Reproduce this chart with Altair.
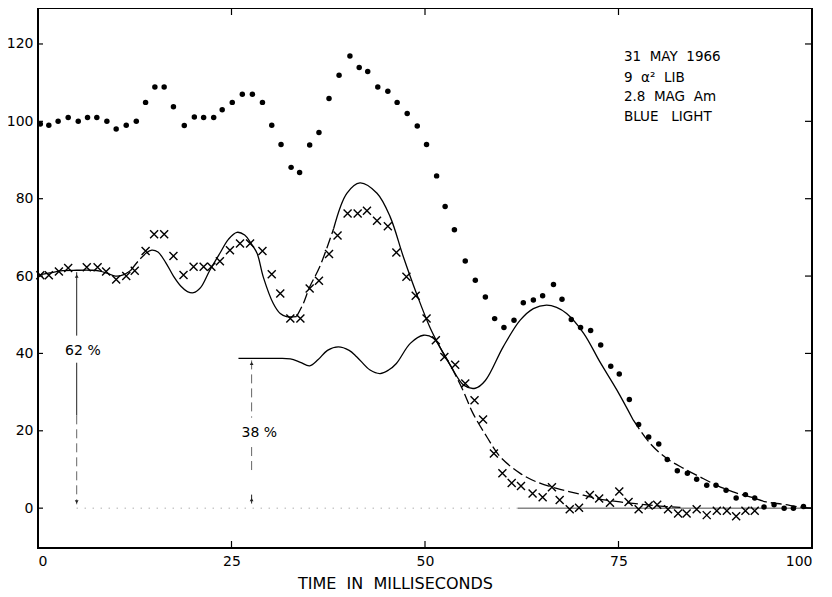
import altair as alt
import pandas as pd

# ---------------- data ----------------
dot_t = [0.3, 1.4, 2.6, 3.9, 5.2, 6.4, 7.6, 8.9, 10.1, 11.4, 12.7, 13.9, 15.1, 16.3, 17.5,
         18.9, 20.2, 21.4, 22.7, 23.8, 25.1, 26.4, 27.7, 29.0, 30.2, 31.4, 32.7, 33.8, 35.1,
         36.3, 37.6, 38.9, 40.3, 41.5, 42.6, 43.9, 45.2, 46.4, 47.7, 49.0, 50.2, 51.5, 52.6,
         53.8, 55.2, 56.5, 57.8, 59.0, 60.2, 61.5, 62.7, 64.0, 65.2, 66.6, 67.7, 68.9, 70.1,
         71.4, 72.7, 74.0, 75.1, 76.4, 77.6, 78.9, 80.2, 81.3, 82.6, 83.9, 85.1, 86.4, 87.6,
         88.9, 90.2, 91.4, 92.6, 93.8, 95.1, 96.4, 97.6, 98.9]
dot_v = [99.3, 99.0, 100.0, 101.0, 100.0, 101.0, 101.0, 100.0, 98.0, 99.0, 100.0, 104.9, 108.9,
         108.9, 103.8, 98.9, 101.1, 101.0, 101.0, 103.0, 104.9, 107.0, 107.0, 104.9, 99.0, 94.0,
         88.1, 86.8, 93.9, 97.1, 105.9, 111.9, 116.9, 113.9, 112.9, 108.9, 107.8, 104.9, 102.0,
         98.8, 94.0, 85.9, 78.0, 72.0, 63.9, 58.9, 54.6, 49.0, 46.7, 48.6, 53.1, 53.8, 54.9,
         57.8, 54.0, 48.8, 46.7, 45.9, 42.2, 36.7, 34.7, 28.1, 21.6, 18.4, 16.6, 12.6, 9.7, 9.0,
         7.5, 5.9, 5.9, 4.6, 2.6, 3.5, 2.6, 0.3, 0.9, 0.0, 0.0, 0.4]

cross_t = [0.3, 1.4, 2.7, 3.9, 6.3, 7.7, 8.8, 10.1, 11.4, 12.5, 13.9, 15.0, 16.3, 17.5, 18.8,
           20.1, 21.4, 22.4, 23.5, 24.8, 26.1, 27.4, 29.0, 30.2, 31.3, 32.6, 33.9, 35.1, 36.3,
           37.6, 38.7, 40.0, 41.3, 42.5, 43.8, 45.2, 46.3, 47.6, 48.8, 50.2, 51.4, 52.5, 53.9,
           55.2, 56.4, 57.5, 58.9, 60.0, 61.2, 62.4, 63.9, 65.2, 66.4, 67.4, 68.7, 69.9, 71.3,
           72.5, 73.9, 75.1, 76.3, 77.6, 78.9, 80.0, 81.4, 82.7, 83.8, 85.1, 86.4, 87.7, 89.0,
           90.2, 91.4, 92.6]
cross_v = [60.2, 60.2, 61.2, 62.1, 62.3, 62.3, 61.2, 59.1, 60.0, 61.4, 66.5, 70.8, 70.8, 65.2,
           60.3, 62.4, 62.4, 62.4, 63.8, 66.7, 68.4, 68.4, 66.5, 60.5, 55.5, 49.0, 49.0, 56.8,
           58.8, 65.7, 70.5, 76.2, 76.2, 76.9, 74.3, 72.9, 66.1, 59.8, 54.9, 49.0, 43.4, 39.1,
           37.1, 32.2, 27.9, 22.9, 14.1, 9.0, 6.5, 5.7, 3.8, 2.8, 5.4, 2.1, -0.3, 0.1, 3.4, 2.5,
           1.4, 4.3, 1.6, -0.3, 0.7, 0.9, -0.3, -1.4, -1.4, -0.3, -1.8, -0.7, -0.7, -2.1, -0.7,
           -0.7]

# fitted curve through the crosses (62 % + 38 %)
fitA_t = [0, 1.5, 3.2, 5, 7, 8, 9, 10, 11, 12, 13, 14.0, 14.7, 15.5, 16.5, 17.5, 18.5, 19.3,
          20.1, 21.0, 22.2, 23.5, 24.6, 25.7, 26.7, 27.5, 28.3, 29.1, 30.4, 31.3, 32.1, 33.4,
          34.3, 35.1, 36.4, 38.2, 39.9, 41.6, 43.8, 45.5, 47.2, 48.9, 50.6, 51.9, 53.4]
fitA_v = [60.2, 60.8, 61.4, 61.5, 61.5, 61.3, 60.7, 60.0, 60.3, 61.5, 64.0, 66.0, 66.7, 66.2,
          63.5, 60.0, 57.3, 56.0, 55.7, 57.0, 61.5, 65.9, 69.5, 71.3, 70.6, 68.5, 65.9, 59.8,
          52.9, 50.3, 49.5, 49.5, 53.0, 57.2, 62.4, 72.3, 81.4, 84.1, 81.4, 75.3, 65.0, 55.5,
          46.9, 41.7, 36.5]
fitA_dashed = [(11.6, 13.9), (33.4, 38.2)]

# delayed 38 % component, then fit through the dots
fitB_t = [25.9, 28, 30.5, 32.6, 33.9, 35.1, 36.2, 37.4, 38.8, 40.2, 41.2, 42.9, 44.2, 45.3,
          46.3, 48.1, 49.8, 51.1, 52.4, 53.4, 55.0, 56.5, 57.8, 60.1, 62.3, 64.0, 65.7, 67.0,
          68.3, 70.5, 72.6, 74.8, 76.9, 79.1, 81.2, 83.4, 85.5, 87.7, 89.8, 92.0, 94.1, 96.3,
          98.4, 100]
fitB_v = [38.7, 38.7, 38.7, 38.6, 37.7, 36.8, 38.4, 40.8, 41.7, 40.8, 39.1, 35.7, 34.8, 35.7,
          37.4, 42.6, 44.7, 43.9, 40.0, 36.5, 31.8, 31.0, 33.0, 41.7, 48.6, 51.6, 52.5, 51.9,
          50.3, 45.2, 37.8, 30.5, 22.8, 16.7, 12.9, 10.3, 8.1, 5.9, 4.2, 2.9, 1.6, 1.0, 0.3, 0.0]
fitB_dashed = [(77.0, 100)]

# decay of the crosses after 53 ms
fitC_t = [53.4, 54.9, 56.2, 58.0, 59.7, 62.3, 64.4, 67.0, 69.6, 72.2, 75.2, 77.5, 80.0, 83.0]
fitC_v = [36.5, 30.5, 24.5, 18.4, 13.3, 9.0, 6.8, 5.1, 3.8, 2.5, 1.6, 1.1, 0.6, 0.2]
fitC_dashed = [(53.0, 100)]

x_label_vals = [0, 25, 50, 75, 100]
x_inner_ticks = [25, 50, 75]
y_tick_vals = [0, 20, 40, 60, 80, 100, 120]

NB = "\u00a0"
info_lines = ["31" + NB * 2 + "MAY" + NB * 2 + "1966",
              "9" + NB * 2 + "\u03b1\u00b2" + NB * 2 + "LIB",
              "2.8" + NB * 2 + "MAG" + NB * 2 + "Am",
              "BLUE" + NB * 3 + "LIGHT"]
info_v = [116.6, 111.2, 106.3, 101.1]
info_t = 75.7

x_title = "TIME" + NB * 2 + "IN" + NB * 2 + "MILLISECONDS"

pct_labels = ["62 %", "38 %"]
pct_t = [5.8, 28.6]
pct_v = [40.6, 19.5]

# arrow pieces
arrow_solid_t = [5.0, 5.0, 27.6]
arrow_solid_v1 = [61.0, 37.6, 3.5]
arrow_solid_v2 = [44.6, 24.0, 1.2]
arrow_dash_t = [5.0, 27.6, 27.6]
arrow_dash_v1 = [24.0, 38.2, 15.8]
arrow_dash_v2 = [1.0, 23.4, 9.0]
head_t = [5.0, 5.0, 27.6, 27.6]
head_v = [60.0, 1.6, 37.4, 2.2]
head_shape = ["triangle-up", "triangle-down", "triangle-up", "triangle-up"]

# zero line: faint dotted part and thin solid part
base_dot_t = [5.0, 62.0]
base_solid_t = [62.0, 100.0]

FONT = "DejaVu Sans"
W, H = 774, 540
YDOM = [-10.3, 129.3]


def segments(name, ts, vs, dashed):
    rows = []
    prev = None
    seg = 0

    def style(a, b):
        m = (a + b) / 2
        return "dashed" if any(lo <= m <= hi for lo, hi in dashed) else "solid"

    for i in range(len(ts) - 1):
        s = style(ts[i], ts[i + 1])
        if s != prev:
            seg += 1
            rows.append(dict(t=ts[i], v=vs[i], seg=f"{name}{seg}", style=s, o=i))
            prev = s
        rows.append(dict(t=ts[i + 1], v=vs[i + 1], seg=f"{name}{seg}", style=s, o=i + 1))
    return rows


curves = pd.DataFrame(
    segments("A", fitA_t, fitA_v, fitA_dashed)
    + segments("B", fitB_t, fitB_v, fitB_dashed)
    + segments("C", fitC_t, fitC_v, fitC_dashed)
)
solid_curves = curves[curves["style"] == "solid"]
dashed_curves = curves[curves["style"] == "dashed"]
dots = pd.DataFrame({"t": dot_t, "v": dot_v})
crosses = pd.DataFrame({"t": cross_t, "v": cross_v})

xs = alt.Scale(domain=[0, 100], nice=False, zero=False)
ys = alt.Scale(domain=YDOM, nice=False, zero=False)

x_axis = alt.Axis(values=x_label_vals, ticks=False, domain=False, grid=False,
                  labelFont=FONT, labelFontSize=14, labelColor="black", labelPadding=6,
                  title=x_title, titleFont=FONT, titleFontSize=16,
                  titleFontWeight="normal", titleColor="black", titleX=357, titleY=27,
                  titleAlign="center", titleBaseline="top")
y_axis = alt.Axis(values=y_tick_vals, ticks=False, domain=False, grid=False,
                  labelFont=FONT, labelFontSize=14, labelColor="black", labelPadding=5,
                  title=None)

X = alt.X("t:Q", scale=xs, axis=x_axis)
Y = alt.Y("v:Q", scale=ys, axis=y_axis)

solid_layer = alt.Chart(solid_curves).mark_line(
    color="black", strokeWidth=1.3, interpolate="catmull-rom").encode(
    x=X, y=Y, detail="seg:N", order="o:Q")
dashed_layer = alt.Chart(dashed_curves).mark_line(
    color="black", strokeWidth=1.3, interpolate="catmull-rom", strokeDash=[11, 4]).encode(
    x=X, y=Y, detail="seg:N", order="o:Q")

dot_layer = alt.Chart(dots).mark_point(filled=True, shape="circle", size=30, color="black",
                                       opacity=1).encode(x=X, y=Y)
cross_layer = alt.Chart(crosses).mark_point(shape="M-1,-1L1,1M-1,1L1,-1", filled=False, size=64,
                                            strokeWidth=1.4, color="black", opacity=1).encode(x=X, y=Y)

base_dot = alt.Chart(pd.DataFrame({"t": [base_dot_t[0]], "t2": [base_dot_t[1]], "v": [0]})).mark_rule(
    strokeWidth=1, color="#8a8a8a", strokeDash=[1, 7]).encode(x=X, x2="t2:Q", y=Y)
base_solid = alt.Chart(pd.DataFrame({"t": [base_solid_t[0]], "t2": [base_solid_t[1]], "v": [0]})).mark_rule(
    strokeWidth=0.9, color="#333333").encode(x=X, x2="t2:Q", y=Y)

arrow_solid = alt.Chart(pd.DataFrame({"t": arrow_solid_t, "v": arrow_solid_v1, "v2": arrow_solid_v2})).mark_rule(
    strokeWidth=1, color="#222222").encode(x=X, y=Y, y2="v2:Q")
arrow_dash = alt.Chart(pd.DataFrame({"t": arrow_dash_t, "v": arrow_dash_v1, "v2": arrow_dash_v2})).mark_rule(
    strokeWidth=1, color="#666666", strokeDash=[9, 5]).encode(x=X, y=Y, y2="v2:Q")

head_df = pd.DataFrame({"t": head_t, "v": head_v, "shape": head_shape})
head_layer = alt.Chart(head_df).mark_point(filled=True, size=14, color="#222222", opacity=1).encode(
    x=X, y=Y,
    shape=alt.Shape("shape:N", scale=alt.Scale(domain=["triangle-up", "triangle-down"],
                                               range=["triangle-up", "triangle-down"]), legend=None),
)

pct_df = pd.DataFrame({"t": pct_t, "v": pct_v, "txt": pct_labels})
pct_layer = alt.Chart(pct_df).mark_text(font=FONT, fontSize=14, color="black", align="center",
                                        baseline="middle").encode(x=X, y=Y, text="txt:N")

info_df = pd.DataFrame({"t": [info_t] * len(info_lines), "v": info_v, "txt": info_lines})
info_layer = alt.Chart(info_df).mark_text(font=FONT, fontSize=13.5, color="black", align="left",
                                          baseline="middle").encode(x=X, y=Y, text="txt:N")

# inward tick marks on the frame
xt = pd.DataFrame({"t": x_inner_ticks})
yt = pd.DataFrame({"v": y_tick_vals})
tick_bottom = alt.Chart(xt).mark_rule(color="black", strokeWidth=1.2).encode(
    x=X, y=alt.value(H), y2=alt.value(H - 7))
tick_top = alt.Chart(xt).mark_rule(color="black", strokeWidth=1.2).encode(
    x=X, y=alt.value(0), y2=alt.value(7))
tick_left = alt.Chart(yt).mark_rule(color="black", strokeWidth=1.2).encode(
    y=Y, x=alt.value(0), x2=alt.value(5))
tick_right = alt.Chart(yt).mark_rule(color="black", strokeWidth=1.2).encode(
    y=Y, x=alt.value(W), x2=alt.value(W - 7))

chart = alt.layer(
    base_dot, base_solid, arrow_solid, arrow_dash, head_layer, solid_layer, dashed_layer,
    dot_layer, cross_layer, pct_layer, info_layer,
    tick_bottom, tick_top, tick_left, tick_right,
).properties(
    width=W, height=H,
    autosize=alt.AutoSizeParams(type="none"),
    padding={"left": 30, "top": 0, "right": 12, "bottom": 49},
    background="white",
).configure_view(stroke="black", strokeWidth=2)

chart.save("out.html", embed_options={"renderer": "svg", "actions": False})
